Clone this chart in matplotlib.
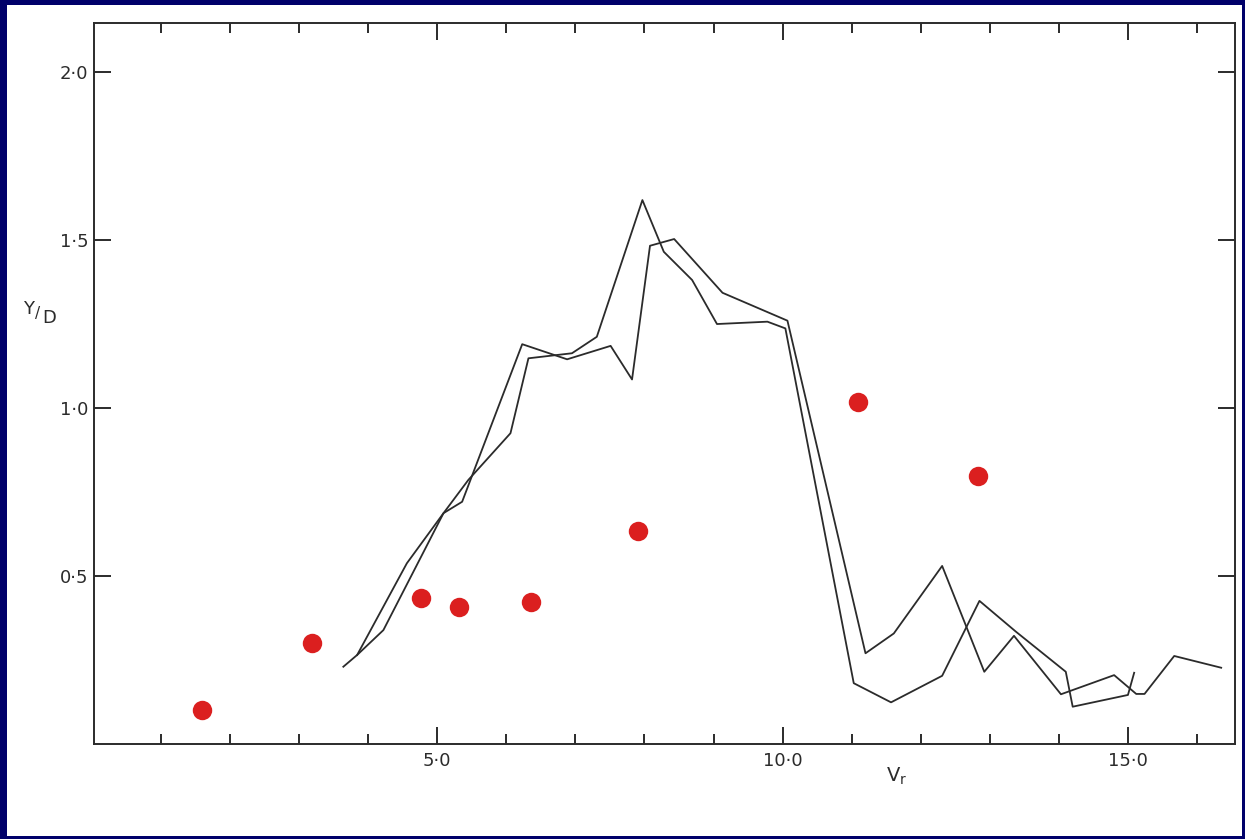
import matplotlib
matplotlib.use("Agg")
import matplotlib.pyplot as plt
from matplotlib.patches import Rectangle

plt.rcParams.update({"font.family": "DejaVu Sans", "mathtext.default": "regular"})

## Données : amplitude réduite Y/D en fonction de la vitesse réduite Vr
# points expérimentaux (rouges)
vr_points = [1.59, 3.19, 4.77, 5.32, 6.35, 7.91, 11.09, 12.83]
yd_points = [0.101, 0.300, 0.435, 0.408, 0.423, 0.634, 1.018, 0.798]

# première courbe
vr_run1 = [3.84, 4.56, 5.09, 5.36, 6.23, 6.88, 7.51, 7.82, 8.08, 8.43, 9.13,
           10.07, 11.20, 11.61, 12.31, 12.92, 13.35, 14.03, 14.80, 15.12,
           15.24, 15.67, 16.35]
yd_run1 = [0.265, 0.538, 0.687, 0.721, 1.190, 1.145, 1.185, 1.085, 1.483,
           1.503, 1.343, 1.260, 0.270, 0.329, 0.530, 0.215, 0.322, 0.148,
           0.205, 0.149, 0.149, 0.262, 0.227]

# deuxième courbe
vr_run2 = [3.64, 3.84, 4.22, 5.09, 5.45, 6.06, 6.32, 6.95, 7.31, 7.97, 8.28,
           8.69, 9.05, 9.78, 10.04, 11.03, 11.57, 12.31, 12.85, 13.38, 14.10,
           14.20, 15.00, 15.09]
yd_run2 = [0.230, 0.265, 0.339, 0.687, 0.786, 0.925, 1.148, 1.163, 1.212,
           1.619, 1.465, 1.381, 1.250, 1.257, 1.237, 0.181, 0.124, 0.203,
           0.426, 0.334, 0.215, 0.111, 0.146, 0.212]

x_major = [5, 10, 15]
x_labels = ["5·0", "10·0", "15·0"]
x_minor = [1, 2, 3, 4, 6, 7, 8, 9, 11, 12, 13, 14, 16]
y_ticks = [0.5, 1.0, 1.5, 2.0]
y_labels = ["0·5", "1·0", "1·5", "2·0"]

INK = "#2b2b2b"
RED = "#db1f1f"
NAVY = "#00006a"

W, H = 1245, 839
fig = plt.figure(figsize=(W / 100, H / 100), dpi=100, facecolor=NAVY)
# fond blanc à l'intérieur du cadre bleu
fig.patches.append(Rectangle((7 / W, 3 / H), (W - 10) / W, (H - 8) / H,
                             transform=fig.transFigure, facecolor="white",
                             edgecolor="none", zorder=-10))

ax = fig.add_axes([94 / W, (H - 744) / H, (1235 - 94) / W, (744 - 23) / H])
ax.set_zorder(1)
ax.set_facecolor("white")

ax.plot(vr_run1, yd_run1, color=INK, linewidth=1.3, zorder=2)
ax.plot(vr_run2, yd_run2, color=INK, linewidth=1.3, zorder=2)
ax.plot(vr_points, yd_points, "o", color=RED, markersize=14, markeredgewidth=0, zorder=3)

ax.set_xlim(0.03, 16.55)
ax.set_ylim(0, 2.146)

ax.set_xticks(x_major)
ax.set_xticklabels(x_labels)
ax.set_xticks(x_minor, minor=True)
ax.set_yticks(y_ticks)
ax.set_yticklabels(y_labels)

ax.tick_params(axis="both", which="both", direction="in", colors=INK,
               top=True, right=True, width=1.4, labelsize=13)
ax.tick_params(axis="x", which="major", length=12, pad=6)
ax.tick_params(axis="x", which="minor", length=7)
ax.tick_params(axis="y", which="major", length=12, pad=4)

for s in ax.spines.values():
    s.set_color(INK)
    s.set_linewidth(1.4)

ax.set_xlabel("V$_{r}$", fontsize=14, color=INK)
ax.xaxis.set_label_coords((897 - 94) / (1235 - 94), -0.030)

# étiquette Y/D
fig.text(23 / W, 1 - 314 / H, "Y", fontsize=13, color=INK, va="baseline")
fig.text(35 / W, 1 - 318 / H, "/", fontsize=11, color=INK, va="baseline")
fig.text(42 / W, 1 - 323 / H, "D", fontsize=13, color=INK, va="baseline")

fig.savefig("out.png", dpi=100, facecolor=NAVY)
